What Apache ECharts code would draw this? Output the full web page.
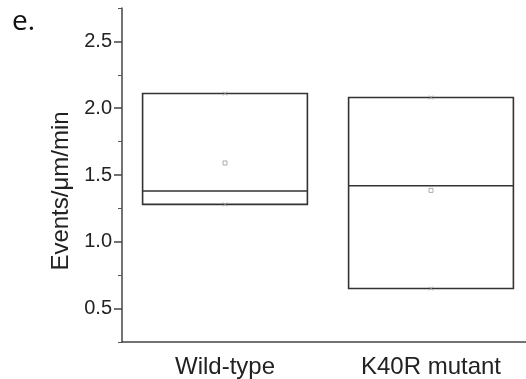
<!DOCTYPE html>
<html>
<head>
<meta charset="utf-8">
<script src="https://cdn.jsdelivr.net/npm/echarts@6/dist/echarts.min.js"></script>
<style>
  html, body { margin: 0; padding: 0; background: #fff; }
  #chart { width: 526px; height: 379px; }
</style>
</head>
<body>
<div id="chart"></div>
<script>
var categories = ['Wild-type', 'K40R mutant'];
var minVals = [1.28, 0.65];     // 1% / min marker
var q1Vals = [1.28, 0.65];
var medianVals = [1.38, 1.42];
var q3Vals = [2.11, 2.08];
var maxVals = [2.11, 2.08];     // 99% / max marker
var meanVals = [1.59, 1.385];

var majorTicks = [0.5, 1.0, 1.5, 2.0, 2.5];
var minorTicks = [0.25, 0.75, 1.25, 1.75, 2.25, 2.75];

var boxData = [];
for (var i = 0; i < categories.length; i++) {
    boxData.push([minVals[i], q1Vals[i], medianVals[i], q3Vals[i], maxVals[i]]);
}

var myChart = echarts.init(document.getElementById('chart'));
var option = {
    animation: false,
    backgroundColor: '#fff',
    grid: { left: 122, width: 412, top: 8, bottom: 37, outerBoundsMode: 'none', containLabel: false },
    graphic: [
        {
            type: 'text', left: 12, top: 8,
            style: { text: 'e.', font: '28px "Open Sans"', fill: '#111' }
        },
        {
            type: 'text', x: 49, y: 191, rotation: Math.PI / 2,
            style: {
                text: 'Events/\u03bcm/min', font: '24px "Liberation Sans"', fill: '#222',
                align: 'center', verticalAlign: 'top'
            }
        }
    ],
    xAxis: {
        type: 'category',
        data: categories,
        axisLine: { lineStyle: { color: '#444', width: 1.5 } },
        axisTick: { alignWithLabel: true, length: 7, lineStyle: { color: '#444', width: 1.5 } },
        axisLabel: { color: '#222', fontFamily: 'Liberation Sans', fontSize: 24, margin: 13 },
        splitLine: { show: false }
    },
    yAxis: [
        {
            type: 'value', min: 0.25, max: 2.75,
            axisLine: { show: true, lineStyle: { color: '#444', width: 1.5 } },
            axisTick: { show: true, length: 8, customValues: majorTicks, lineStyle: { color: '#444', width: 1.5 } },
            axisLabel: {
                customValues: majorTicks, color: '#222', fontFamily: 'Liberation Sans', fontSize: 20, margin: 10,
                formatter: function (v) { return v.toFixed(1); }
            },
            splitLine: { show: false }
        },
        {
            type: 'value', min: 0.25, max: 2.75, position: 'left',
            axisLine: { show: false },
            axisTick: { show: true, length: 4, customValues: minorTicks, lineStyle: { color: '#555', width: 1 } },
            axisLabel: { show: false },
            splitLine: { show: false }
        }
    ],
    series: [
        {
            type: 'boxplot',
            data: boxData,
            boxWidth: ['80%', '80%'],
            itemStyle: { color: 'transparent', borderColor: '#333', borderWidth: 1.6 }
        },
        {
            type: 'scatter',
            data: meanVals,
            symbol: 'rect',
            symbolSize: 4,
            itemStyle: { color: 'transparent', borderColor: '#999', borderWidth: 1 }
        },
        {
            type: 'scatter',
            data: minVals,
            symbol: 'path://M0,0L10,10M10,0L0,10',
            symbolSize: 4,
            itemStyle: { color: 'none', borderColor: '#999', borderWidth: 1 }
        },
        {
            type: 'scatter',
            data: maxVals,
            symbol: 'path://M0,0L10,10M10,0L0,10',
            symbolSize: 4,
            itemStyle: { color: 'none', borderColor: '#999', borderWidth: 1 }
        }
    ]
};
myChart.setOption(option);
</script>
</body>
</html>
